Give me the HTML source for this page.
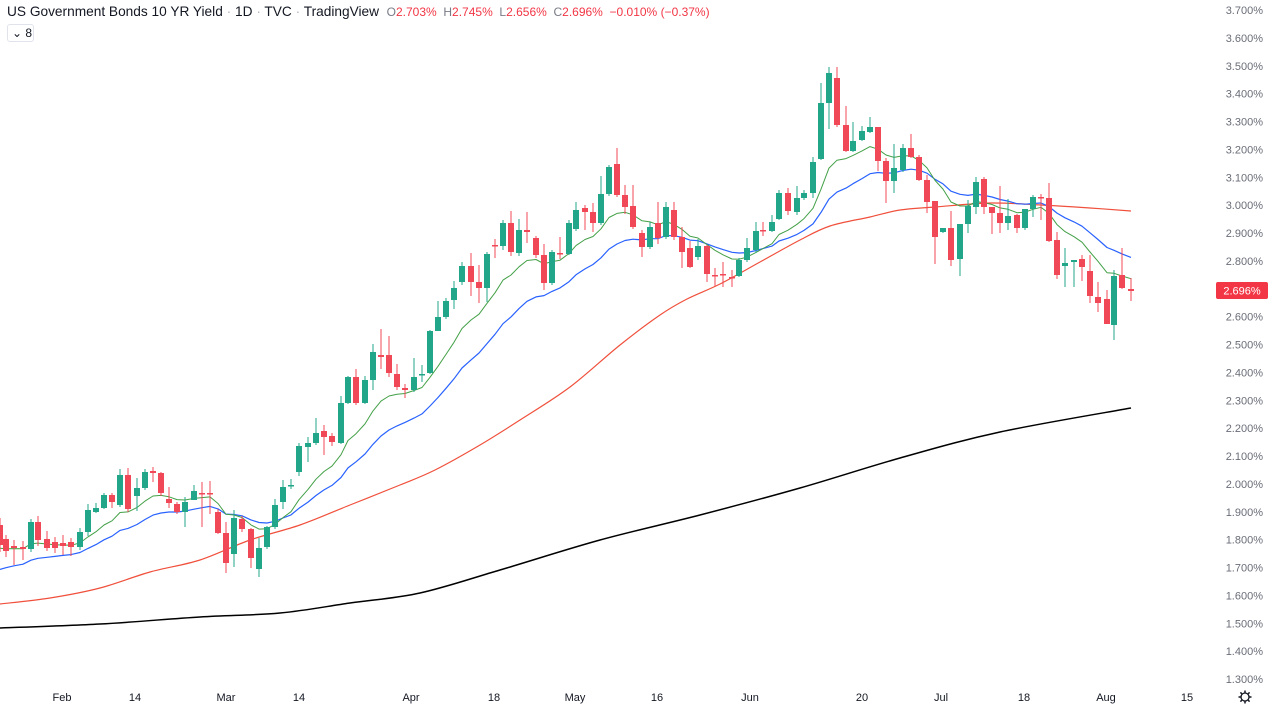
<!DOCTYPE html>
<html><head><meta charset="utf-8">
<style>
html,body{margin:0;padding:0;background:#fff;}
body{width:1272px;height:708px;overflow:hidden;position:relative;font-family:"Liberation Sans",sans-serif;}
.hdr{position:absolute;left:7px;top:4px;font-size:13.7px;color:#131722;white-space:nowrap;}
.hdr .d{color:#b2b5be;}
.ohlc{color:#f23645;font-size:12px;}
.ohlc b{font-weight:normal;color:#787b86;}
.box{position:absolute;left:7px;top:24px;width:27px;height:18px;border:1px solid #e0e3eb;border-radius:3px;font-size:12px;color:#131722;box-sizing:border-box;line-height:16px;padding-left:4px;}
</style></head><body>
<svg id="s" width="1272" height="708" style="position:absolute;left:0;top:0" font-family="Liberation Sans, sans-serif"></svg>
<div class="hdr">US Government Bonds 10 YR Yield <span class="d">·</span> 1D <span class="d">·</span> TVC <span class="d">·</span> TradingView &nbsp;<span class="ohlc"><b>O</b>2.703% &nbsp;<b>H</b>2.745% &nbsp;<b>L</b>2.656% &nbsp;<b>C</b>2.696% &nbsp;−0.010% (−0.37%)</span></div>
<div class="box">⌄ 8</div>
<script>
const C=[[0,525,545,518,552],[6,539,551,535,557],[14,546,548,540,565],[23,547,549,541,560],[31,549,522,519,552],[38,522,540,516,546],[47,539,548,531,551],[55,542,548,537,553],[63,543,546,535,555],[71,542,547,538,556],[80,547,532,528,550],[88,532,510,504,536],[96,512,508,503,513],[104,508,495,493,509],[112,495,502,493,508],[120,505,475,469,507],[128,475,509,468,512],[137,496,488,478,511],[145,488,472,469,490],[153,471,473,467,482],[161,473,493,472,496],[169,499,503,487,508],[177,504,512,502,514],[185,512,502,497,527],[194,500,491,485,496],[202,493,494,482,527],[210,493,494,481,514],[218,512,533,509,534],[226,533,563,522,573],[234,554,518,510,567],[242,519,529,516,532],[251,529,558,528,568],[259,569,548,538,577],[267,547,527,526,549],[275,527,505,499,529],[283,502,487,480,509],[291,486,485,479,489],[299,472,446,443,476],[308,447,443,437,462],[316,443,433,418,445],[324,431,437,425,455],[332,436,442,433,446],[341,443,403,396,444],[348,403,377,376,404],[356,377,403,369,405],[365,403,380,376,404],[373,380,352,344,390],[381,355,357,329,369],[389,355,373,336,377],[397,374,387,364,390],[405,388,390,384,398],[414,390,377,358,392],[422,375,374,365,382],[430,373,331,330,374],[438,331,317,301,330],[446,317,301,298,319],[454,300,288,281,309],[462,282,266,262,285],[471,266,282,253,296],[479,282,288,265,303],[487,288,254,252,302],[495,245,246,239,258],[503,246,223,220,250],[511,223,252,211,256],[519,253,230,219,256],[527,230,232,212,243],[536,238,255,236,258],[544,255,283,244,290],[552,283,252,250,285],[560,253,254,237,259],[569,254,223,220,255],[576,229,210,202,231],[585,208,212,205,230],[593,212,223,203,232],[601,223,194,176,225],[609,194,167,165,196],[617,164,195,148,197],[625,195,207,185,214],[633,206,227,185,229],[642,233,247,230,257],[650,247,227,222,249],[658,223,238,202,244],[666,237,207,202,239],[674,210,237,202,240],[682,237,252,227,268],[690,248,267,241,268],[698,257,246,239,260],[707,246,274,245,282],[715,275,276,268,286],[723,274,275,262,287],[732,277,278,270,287],[739,276,260,258,277],[747,260,248,238,262],[756,250,231,222,253],[763,230,231,222,236],[772,231,222,215,232],[779,219,193,190,220],[788,193,211,188,215],[797,212,198,186,215],[804,198,193,190,200],[813,193,162,157,198],[821,159,103,83,160],[829,103,73,67,129],[837,78,125,67,127],[846,125,151,106,152],[853,151,141,122,152],[862,140,131,126,141],[870,132,127,117,133],[878,127,161,127,171],[886,161,181,158,203],[894,181,168,144,193],[903,170,148,144,172],[911,148,157,134,158],[919,157,180,155,181],[927,180,202,175,213],[935,201,237,201,264],[943,232,228,228,233],[951,228,260,211,266],[960,259,224,224,276],[968,224,206,200,233],[976,207,182,177,214],[984,179,207,177,214],[992,207,213,207,234],[1000,213,223,186,233],[1008,223,216,199,230],[1017,215,228,214,233],[1025,228,209,209,230],[1033,209,197,195,217],[1041,197,198,194,220],[1049,198,241,183,242],[1057,240,275,232,279],[1065,266,263,248,287],[1074,262,260,260,287],[1082,259,267,255,281],[1090,271,296,255,303],[1098,297,303,282,312],[1107,299,324,290,324],[1114,325,276,270,340],[1122,275,288,248,289],[1131,289,291,278,301]];
let h='';
for(let i=0;i<=24;i++){const v=(3.7-i*0.1).toFixed(3);const y=10+i*27.875;
 h+=`<text x="1263" y="${y+4}" font-size="11" fill="#6a6d78" text-anchor="end">${v}%</text>`;}
[["Feb",62],["14",135],["Mar",226],["14",299],["Apr",411],["18",494],["May",575],["16",657],["Jun",750],["20",862],["Jul",941],["18",1024],["Aug",1106],["15",1187]].forEach(([t,x])=>{
 h+=`<text x="${x}" y="701" font-size="11" fill="#131722" text-anchor="middle">${t}</text>`;});
function smooth(pts){let d=`M${pts[0][0]},${pts[0][1]}`;
 for(let i=0;i<pts.length-1;i++){const p0=pts[Math.max(i-1,0)],p1=pts[i],p2=pts[i+1],p3=pts[Math.min(i+2,pts.length-1)];
  d+=` C${p1[0]+(p2[0]-p0[0])/6},${p1[1]+(p2[1]-p0[1])/6} ${p2[0]-(p3[0]-p1[0])/6},${p2[1]-(p3[1]-p1[1])/6} ${p2[0]},${p2[1]}`;}
 return d;}
const sp=(pts,col,w)=>`<path fill="none" stroke="${col}" stroke-width="${w}" d="${smooth(pts)}"/>`;
const pl=(pts,col,w)=>`<polyline fill="none" stroke="${col}" stroke-width="${w}" stroke-linejoin="round" points="${pts.map(p=>p.join(',')).join(' ')}"/>`;
h+=sp([[0,628],[100,624],[200,617],[280,613],[350,603],[420,593],[500,570],[600,540],[700,515],[800,488],[900,458],[1000,432],[1131,408]],"#000",1.5);
h+=sp([[0,604],[50,598],[100,588],[150,572],[200,560],[250,540],[300,525],[350,505],[400,485],[435,470],[480,445],[520,420],[570,387],[620,345],[660,315],[687,299],[720,284],[760,262],[800,240],[830,226],[870,217],[900,210],[935,207],[990,203],[1041,205],[1090,208],[1131,211]],"#f0503c",1.2);
function ema(n,seed){let e=seed,out=[];const k=2/(n+1);C.forEach(c=>{e=c[2]*k+e*(1-k);out.push([c[0],e.toFixed(1)]);});return out;}
h+=pl(ema(20,572),"#2962ff",1.2);
h+=pl(ema(10,549),"#43a047",1);
C.forEach(([x,o,c,hi,lo])=>{const up=c<o;const col=up?"#22a68a":"#f04856";
 const t=Math.min(o,c),b=Math.max(o,c);
 h+=`<line x1="${x}" y1="${hi}" x2="${x}" y2="${lo}" stroke="${col}" stroke-width="1"/>`;
 h+=`<rect x="${x-3}" y="${t}" width="6" height="${Math.max(b-t,1.5)}" fill="${col}"/>`;});
h+=`<rect x="1216" y="282" width="52" height="17" rx="2" fill="#f23645"/><text x="1242" y="294.5" font-size="11" fill="#fff" text-anchor="middle">2.696%</text>`;
h+=`<circle cx="1245" cy="697" r="4" fill="none" stroke="#131722" stroke-width="1.3"/>`;
for(let a=0;a<8;a++){const r=a*Math.PI/4;h+=`<line x1="${1245+Math.cos(r)*4.5}" y1="${697+Math.sin(r)*4.5}" x2="${1245+Math.cos(r)*6.5}" y2="${697+Math.sin(r)*6.5}" stroke="#131722" stroke-width="1.5"/>`;}
document.getElementById('s').innerHTML=h;
</script>
</body></html>
